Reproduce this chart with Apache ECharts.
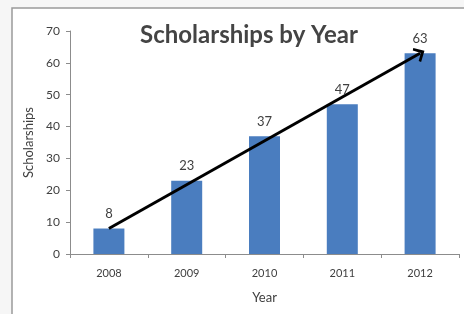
<!DOCTYPE html>
<html>
<head>
<meta charset="utf-8">
<script src="https://cdn.jsdelivr.net/npm/echarts@6/dist/echarts.min.js"></script>
<style>
  html, body { margin: 0; padding: 0; background: #f6f6f6; }
  #chart { width: 464px; height: 314px; }
</style>
</head>
<body>
<div id="chart"></div>
<script>
const years = ['2008', '2009', '2010', '2011', '2012']
const scholarships = [8, 23, 37, 47, 63]
const yTicks = [0, 10, 20, 30, 40, 50, 60, 70]

// trend arrow: from the first bar top to the last one
const trendFrom = [0, scholarships[0]]
const trendTo = [years.length - 1, scholarships[scholarships.length - 1]]

const font = 'Lato, "Open Sans", sans-serif'
const chart = echarts.init(document.getElementById('chart'))

const option = {
  backgroundColor: '#f6f6f6',
  animation: false,
  graphic: [
    {
      type: 'rect',
      z: -10,
      shape: { x: 12, y: 8, width: 470, height: 330 },
      style: { fill: '#ffffff', stroke: '#9a9a9a', lineWidth: 1.5 },
    },
  ],
  title: {
    text: 'Scholarships by Year',
    left: 244,
    top: 18,
    textAlign: 'center',
    textStyle: { fontFamily: font, fontSize: 24, fontWeight: 'bold', color: '#444444' },
  },
  grid: { left: 70, right: 5, top: 31, bottom: 60 },
  xAxis: {
    type: 'category',
    data: years,
    name: 'Year',
    nameLocation: 'middle',
    nameGap: 37,
    nameTextStyle: { fontFamily: font, fontSize: 13, color: '#404040' },
    axisLine: { lineStyle: { color: '#8c8c8c', width: 1 } },
    axisTick: { show: true, length: 4, alignWithLabel: false, lineStyle: { color: '#8c8c8c' } },
    axisLabel: { fontFamily: font, fontSize: 11, color: '#404040', margin: 14 },
  },
  yAxis: {
    type: 'value',
    min: yTicks[0],
    max: yTicks[yTicks.length - 1],
    interval: 10,
    name: 'Scholarships',
    nameLocation: 'middle',
    nameGap: 34,
    nameTextStyle: { fontFamily: font, fontSize: 13, color: '#404040' },
    axisLine: { show: true, lineStyle: { color: '#8c8c8c', width: 1 } },
    axisTick: { show: true, length: 4, lineStyle: { color: '#8c8c8c' } },
    axisLabel: { fontFamily: font, fontSize: 12, color: '#404040', margin: 10 },
    splitLine: { show: false },
  },
  series: [
    {
      type: 'bar',
      data: scholarships,
      barWidth: 31,
      itemStyle: { color: '#4a7dbf' },
      label: {
        show: true,
        position: 'top',
        distance: 8,
        fontFamily: font,
        fontSize: 13,
        color: '#404040',
      },
      markLine: {
        silent: true,
        // open chevron, pointing along the line
        symbol: ['none', 'path://M0,10 L10,0 L20,10 L17.5,12 L10,5 L2.5,12 Z'],
        symbolSize: [16, 10],
        symbolOffset: [0, 0],
        label: { show: false },
        lineStyle: { color: '#000000', width: 3, type: 'solid' },
        data: [[{ coord: trendFrom }, { coord: trendTo }]],
      },
    },
  ],
}

chart.setOption(option)
</script>
</body>
</html>
